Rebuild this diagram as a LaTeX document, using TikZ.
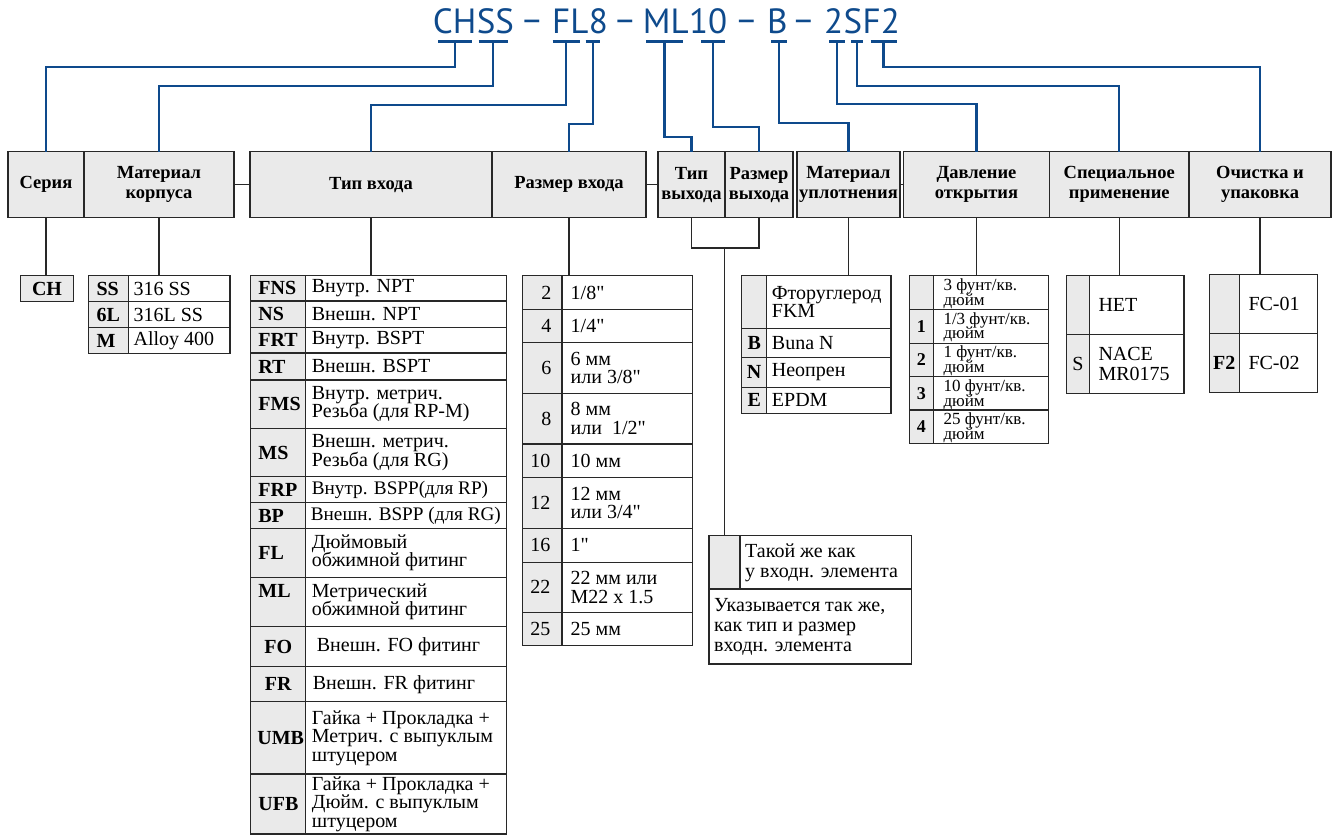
\documentclass[tikz,border=0pt]{standalone}
\usepackage{fontspec}
\setmainfont{Liberation Serif}
\newfontfamily\titlefont{PT Sans}
\definecolor{tblue}{RGB}{14,74,140}
\definecolor{cellgrey}{RGB}{234,234,234}
\definecolor{edge}{RGB}{40,40,40}

\newcommand\kk[5]{\node[kbox,minimum width={#4-#2},minimum height={#5-#3}] (#1) at ({(#2+#4)/2},{(#3+#5)/2}) {};}
\newcommand\kc[7][cd]{\kk{#2}{#3}{#4}{#5}{#6}\node[#1] (#2t) at (#2.center) {#7};}
\newcommand\kl[8][cd]{\kk{#2}{#3}{#4}{#5}{#6}\node[#1,anchor=west] (#2t) at ([xshift=#7pt]#2.west) {#8};}
\newcommand\kr[8][cd]{\kk{#2}{#3}{#4}{#5}{#6}\node[#1,anchor=east] (#2t) at ([xshift=-#7pt]#2.east) {#8};}
\newcommand\wl[8][tx]{\node[wbox,minimum width={#5-#3},minimum height={#6-#4}] (#2) at ({(#3+#5)/2},{(#4+#6)/2}) {};\node[#1,anchor=west] (#2t) at ([xshift=#7pt]#2.west) {#8};}
\newcommand\tbar[3]{\coordinate (#1) at ({(#2+#3)/2},41.7);\draw[blbar] (#2,41.7) -- (#3,41.7);}
\newcommand\qd{\textquotedbl}

\begin{document}
\begin{tikzpicture}[x=1pt,y=-1pt,
 kbox/.style={draw=edge,fill=cellgrey,line width=1.1pt,inner sep=0pt,outer sep=0pt},
 wbox/.style={draw=edge,line width=1.1pt,inner sep=0pt,outer sep=0pt},
 hdr/.style={draw=edge,fill=cellgrey,line width=1.3pt,inner sep=0pt,outer sep=0pt,align=center,font={\fontsize{18.5}{20}\selectfont\bfseries}},
 tx/.style={inner sep=0pt,align=left,font={\fontsize{20}{18.5}\selectfont\lineskiplimit-50pt\relax}},
 txb/.style={inner sep=0pt,align=left,font={\fontsize{19.2}{18.5}\selectfont}},
 txo/.style={inner sep=0pt,align=left,font={\fontsize{20}{20}\selectfont\lineskiplimit-50pt\relax}},
 txs/.style={inner sep=0pt,align=left,yshift=-1pt,font={\fontsize{17}{14.8}\selectfont\lineskiplimit-50pt\relax}},
 txn/.style={inner sep=0pt,align=left,font={\fontsize{20}{19.5}\selectfont\lineskiplimit-50pt\relax}},
 cd/.style={inner sep=0pt,font={\fontsize{20}{20}\selectfont\bfseries}},
 cdr/.style={inner sep=0pt,font={\fontsize{20}{20}\selectfont}},
 cdp/.style={inner sep=0pt,font={\fontsize{18}{18}\selectfont\bfseries}},
 bl/.style={draw=tblue,line width=2.3pt},
 blbar/.style={draw=tblue,line width=2.6pt},
 conn/.style={draw=edge,line width=1.1pt},
 ttl/.style={inner sep=0pt,anchor=base west,text=tblue,font={\titlefont\fontsize{35}{35}\selectfont}}]
\useasboundingbox (0,0) rectangle (1332,835);

% ---------- title ----------
\node[ttl] (tCH) at (432.7,33.3) {CH};
\node[ttl] (tSS) at (tCH.base east) {SS};
\node[ttl,anchor=base] (td1) at (532,31) {–};
\node[ttl] (tFL) at (552,33.3) {FL};
\node[ttl] (t8) at (tFL.base east) {8};
\node[ttl,anchor=base] (td2) at (625,31) {–};
\node[ttl] (tML) at (642.7,33.3) {ML};
\node[ttl] (t10) at (tML.base east) {10};
\node[ttl,anchor=base] (td3) at (746.5,31) {–};
\node[ttl] (tB) at (767,33.3) {B};
\node[ttl,anchor=base] (td4) at (803.5,31) {–};
\node[ttl] (t2) at (824,33.3) {2};
\node[ttl] (tS) at (t2.base east) {S};
\node[ttl] (tF2) at (tS.base east) {F2};

% ---------- header ----------
\node[hdr,minimum width=76,minimum height=65.8] (ser) at (46,184.6) {Серия};
\node[hdr,minimum width=150,minimum height=65.8] (matk) at (159,184.6) {Материал\\корпуса};
\node[hdr,minimum width=242,minimum height=65.8] (tin) at (371,184.6) {Тип входа};
\node[hdr,minimum width=154,minimum height=65.8] (rin) at (569,184.6) {Размер входа};
\node[hdr,minimum width=67,minimum height=65.8] (tout) at (691.5,184.6) {Тип\\выхода};
\node[hdr,minimum width=68,minimum height=65.8] (rout) at (759,184.6) {Размер\\выхода};
\node[hdr,minimum width=103,minimum height=65.8] (seal) at (848.5,184.6) {Материал\\уплотнения};
\node[hdr,minimum width=146,minimum height=65.8] (prs) at (976.5,184.6) {Давление\\открытия};
\node[hdr,minimum width=139.5,minimum height=65.8] (spc) at (1119.25,184.6) {Специальное\\применение};
\node[hdr,minimum width=142,minimum height=65.8] (cln) at (1260,184.6) {Очистка и\\упаковка};

% ---------- series ----------
\kc{ch}{20.7}{275.7}{73.3}{301.7}{CH}

% ---------- body material ----------
\kl{m1k}{88.3}{275.7}{128.7}{301.7}{8}{SS}\wl{m1v}{128.7}{275.7}{230}{301.7}{4.7}{316 SS}
\kl{m2k}{88.3}{301.7}{128.7}{327.7}{8}{6L}\wl{m2v}{128.7}{301.7}{230}{327.7}{4.7}{316L SS}
\kl{m3k}{88.3}{327.7}{128.7}{353.3}{8}{M}\wl{m3v}{128.7}{327.7}{230}{353.3}{4.7}{Alloy 400}

% ---------- inlet type ----------
\kl{fnsk}{250.7}{275.7}{305.7}{301}{7.5}{FNS}\wl{fnsv}{305.7}{275.7}{506.3}{301}{6}{Внутр. NPT}
\kl{nsk}{250.7}{301}{305.7}{327.3}{7.5}{NS}\wl{nsv}{305.7}{301}{506.3}{327.3}{6}{Внешн. NPT}
\kl{frtk}{250.7}{327.3}{305.7}{353}{7.5}{FRT}\wl{frtv}{305.7}{327.3}{506.3}{353}{6}{Внутр. BSPT}
\kl{rtk}{250.7}{353}{305.7}{380}{7.5}{RT}\wl{rtv}{305.7}{353}{506.3}{380}{6}{Внешн. BSPT}
\kl{fmsk}{250.7}{380}{305.7}{428.3}{7.5}{FMS}\wl{fmsv}{305.7}{380}{506.3}{428.3}{6}{Внутр. метрич.\\Резьба (для RP-M)}
\kl{msk}{250.7}{428.3}{305.7}{476.7}{7.5}{MS}\wl{msv}{305.7}{428.3}{506.3}{476.7}{6}{Внешн. метрич.\\Резьба (для RG)}
\kl{frpk}{250.7}{476.7}{305.7}{502.7}{7.5}{FRP}\wl[txb]{frpv}{305.7}{476.7}{506.3}{502.7}{6}{Внутр. BSPP(для RP)}
\kl{bpk}{250.7}{502.7}{305.7}{528.7}{7.5}{BP}\wl[txb]{bpv}{305.7}{502.7}{506.3}{528.7}{5}{Внешн. BSPP (для RG)}
\kl{flk}{250.7}{528.7}{305.7}{577.3}{7.5}{FL}\wl{flv}{305.7}{528.7}{506.3}{577.3}{6}{Дюймовый\\обжимной фитинг}
\kk{mlk}{250.7}{577.3}{305.7}{626.7}\node[cd,anchor=base west] (mlkt) at (258.2,597) {ML};
\wl{mlv}{305.7}{577.3}{506.3}{626.7}{6}{Метрический\\обжимной фитинг}
\kc{fok}{250.7}{626.7}{305.7}{666.7}{FO}\wl{fov}{305.7}{626.7}{506.3}{666.7}{11}{Внешн. FO фитинг}
\kc{frk}{250.7}{666.7}{305.7}{701.7}{FR}\wl{frv}{305.7}{666.7}{506.3}{701.7}{7}{Внешн. FR фитинг}
\kl{umbk}{250.7}{701.7}{305.7}{774}{6.5}{UMB}\wl{umbv}{305.7}{701.7}{506.3}{774}{6}{Гайка + Прокладка +\\Метрич. с выпуклым\\штуцером}
\kl{ufbk}{250.7}{774}{305.7}{834}{7.5}{UFB}\wl{ufbv}{305.7}{774}{506.3}{834}{6}{Гайка + Прокладка +\\Дюйм. с выпуклым\\штуцером}

% ---------- inlet size ----------
\kr[cdr]{r2k}{522.7}{275.7}{562}{309.3}{10.5}{2}\wl{r2v}{562}{275.7}{692.7}{309.3}{8.5}{1/8\qd}
\kr[cdr]{r4k}{522.7}{309.3}{562}{342.7}{10.5}{4}\wl{r4v}{562}{309.3}{692.7}{342.7}{8.5}{1/4\qd}
\kr[cdr]{r6k}{522.7}{342.7}{562}{393.3}{10.5}{6}\wl{r6v}{562}{342.7}{692.7}{393.3}{8.5}{6 мм\\или 3/8\qd}
\kr[cdr]{r8k}{522.7}{393.3}{562}{444}{10.5}{8}\wl{r8v}{562}{393.3}{692.7}{444}{8.5}{8 мм\\или\ \ 1/2\qd}
\kr[cdr]{r10k}{522.7}{444}{562}{477.7}{11.5}{10}\wl{r10v}{562}{444}{692.7}{477.7}{8.5}{10 мм}
\kr[cdr]{r12k}{522.7}{477.7}{562}{528.3}{11.5}{12}\wl{r12v}{562}{477.7}{692.7}{528.3}{8.5}{12 мм\\или 3/4\qd}
\kr[cdr]{r16k}{522.7}{528.3}{562}{562.3}{11.5}{16}\wl{r16v}{562}{528.3}{692.7}{562.3}{8.5}{1\qd}
\kr[cdr]{r22k}{522.7}{562.3}{562}{612.3}{11.5}{22}\wl{r22v}{562}{562.3}{692.7}{612.3}{8.5}{22 мм или\\M22 x 1.5}
\kr[cdr]{r25k}{522.7}{612.3}{562}{645.7}{11.5}{25}\wl{r25v}{562}{612.3}{692.7}{645.7}{8.5}{25 мм}

% ---------- outlet ----------
\kk{o1k}{709}{535.7}{740}{589}
\wl[txo]{o1v}{740}{535.7}{911.7}{589}{5}{Такой же как\\у входн. элемента}
\wl[txo]{o2v}{709}{589}{911.7}{664}{5}{Указывается так же,\\как тип и размер\\входн. элемента}

% ---------- seal ----------
\kk{s0k}{741.7}{275.7}{766.7}{328.3}\wl{s0v}{766.7}{275.7}{891}{328.3}{5}{Фторуглерод\\FKM}
\kc{sBk}{741.7}{328.3}{766.7}{357.3}{B}\wl{sBv}{766.7}{328.3}{891}{357.3}{5}{Buna N}
\kc{sNk}{741.7}{357.3}{766.7}{387.3}{N}\wl{sNv}{766.7}{357.3}{891}{387.3}{5}{Неопрен}
\kc{sEk}{741.7}{387.3}{766.7}{413.3}{E}\wl{sEv}{766.7}{387.3}{891}{413.3}{5}{EPDM}

% ---------- cracking pressure ----------
\kk{p0k}{909.3}{275.7}{933.3}{309.3}\wl[txs]{p0v}{933.3}{275.7}{1048.3}{309.3}{10}{3 фунт/кв.\\дюйм}
\kc[cdp]{p1k}{909.3}{309.3}{933.3}{343.3}{1}\wl[txs]{p1v}{933.3}{309.3}{1048.3}{343.3}{10}{1/3 фунт/кв.\\дюйм}
\kc[cdp]{p2k}{909.3}{343.3}{933.3}{376.7}{2}\wl[txs]{p2v}{933.3}{343.3}{1048.3}{376.7}{10}{1 фунт/кв.\\дюйм}
\kc[cdp]{p3k}{909.3}{376.7}{933.3}{410}{3}\wl[txs]{p3v}{933.3}{376.7}{1048.3}{410}{10}{10 фунт/кв.\\дюйм}
\kc[cdp]{p4k}{909.3}{410}{933.3}{443.3}{4}\wl[txs]{p4v}{933.3}{410}{1048.3}{443.3}{10}{25 фунт/кв.\\дюйм}

% ---------- special application ----------
\kk{sp0k}{1066.7}{275.7}{1089.3}{334.7}\wl{sp0v}{1089.3}{275.7}{1184}{334.7}{9}{НЕТ}
\kc[cdr]{spSk}{1066.7}{334.7}{1089.3}{393.3}{S}\wl[txn]{spSv}{1089.3}{334.7}{1184}{393.3}{9}{NACE\\MR0175}

% ---------- cleaning ----------
\kk{c0k}{1209.3}{274.7}{1239.3}{333.3}\wl{c0v}{1239.3}{274.7}{1317.3}{333.3}{9}{FC-01}
\kc{cFk}{1209.3}{333.3}{1239.3}{392.3}{F2}\wl{cFv}{1239.3}{333.3}{1317.3}{392.3}{9}{FC-02}

% ---------- black connectors ----------
\draw[conn] (matk.east) -- (tin.west);
\draw[conn] (rin.east) -- (tout.west);
\draw[conn] (seal.east) -- (prs.west);
\draw[conn] (ser.south) -- (ser.south |- ch.north);
\draw[conn] (matk.south) -- (matk.south |- m1k.north);
\draw[conn] (tin.south) -- (tin.south |- fnsk.north);
\draw[conn] (rin.south) -- (rin.south |- r2k.north);
\coordinate (oj) at (o1k.north |- 0,248);
\draw[conn] (tout.south) -- (tout.south |- oj) -- (rout.south |- oj) -- (rout.south);
\draw[conn] (oj) -- (o1k.north);
\draw[conn] (seal.south) -- (seal.south |- s0k.north);
\draw[conn] (prs.south) -- (prs.south |- p0k.north);
\draw[conn] (spc.south) -- (spc.south |- sp0k.north);
\draw[conn] (cln.south) -- (cln.south |- c0k.north);

% ---------- blue connectors ----------
\tbar{bCH}{438}{472}
\tbar{bSS}{478.5}{508}
\tbar{bFL}{552.7}{579.5}
\tbar{b8}{585.7}{600.4}
\tbar{bML}{646}{683}
\tbar{b10}{701}{725}
\tbar{bB}{771}{787}
\tbar{b2}{829}{845}
\tbar{bS}{851}{863}
\tbar{bF2}{870.5}{896.6}
\draw[bl] (bCH) -- (bCH |- 0,67) -| (ser.north);
\draw[bl] (bSS) -- (bSS |- 0,86) -| (matk.north);
\draw[bl] (bFL) -- (bFL |- 0,105) -| (tin.north);
\draw[bl] (b8) -- (b8 |- 0,124) -| (rin.north);
\draw[bl] (bML) -- (bML |- 0,137.3) -| (tout.north);
\draw[bl] (b10) -- (b10 |- 0,127.3) -| (rout.north);
\draw[bl] (bB) -- (bB |- 0,123.3) -| (seal.north);
\draw[bl] (b2) -- (b2 |- 0,104.3) -| (prs.north);
\draw[bl] (bS) -- (bS |- 0,85.7) -| (spc.north);
\draw[bl] (bF2) -- (bF2 |- 0,66.7) -| (cln.north);
\end{tikzpicture}
\end{document}
